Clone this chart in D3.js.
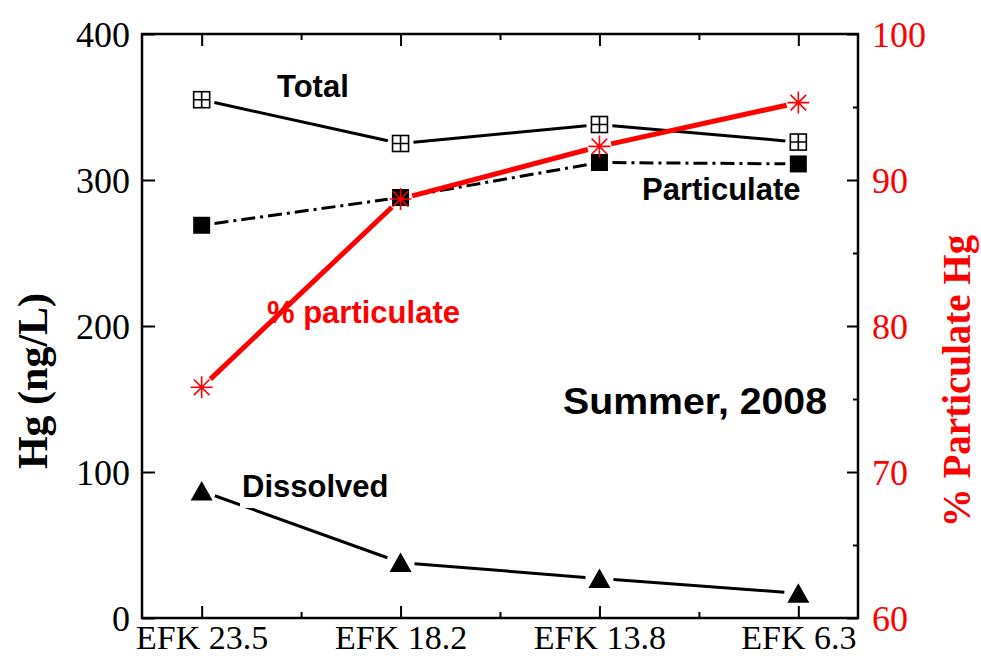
<!DOCTYPE html>
<html><head><meta charset="utf-8">
<script src="https://cdn.jsdelivr.net/npm/d3@7"></script>
<style>html,body{margin:0;padding:0;background:#fff;}</style>
</head><body>
<svg id="chart" width="981" height="659"></svg>
<script>
const categories = ["EFK 23.5", "EFK 18.2", "EFK 13.8", "EFK 6.3"];
const totalHg = [355, 325, 338, 326];
const particulateHg = [269, 288, 312, 311];
const dissolvedHg = [87, 38, 27, 17];
const pctParticulate = [75.8, 88.7, 92.3, 95.3];
const leftTicks = [0, 100, 200, 300, 400];
const rightTicks = [60, 70, 80, 90, 100];
const rightMinor = [65, 75, 85, 95];

const svg = d3.select("#chart");
const L = 142, R = 858, T = 34, B = 618;
const x = d3.scaleLinear().domain([-0.3, 3.3]).range([L, R]);
const yL = d3.scaleLinear().domain([0, 400]).range([B, T]);
const yR = d3.scaleLinear().domain([60, 100]).range([B, T]);
const serif = "'Liberation Serif','Times New Roman',serif";
const sans = "'Liberation Sans',Arial,Helvetica,sans-serif";
const RED = "#ff0000";

// axes (ticks inward)
const idx = categories.map((d, i) => i);
const gB = svg.append("g").attr("transform", `translate(0,${B})`)
  .call(d3.axisBottom(x).tickValues(idx).tickSize(-12).tickFormat(i => categories[i]));
const gBm = svg.append("g").attr("transform", `translate(0,${B})`)
  .call(d3.axisBottom(x).tickValues([0.5, 1.5, 2.5]).tickSize(-6).tickFormat(""));
const gT = svg.append("g").attr("transform", `translate(0,${T})`)
  .call(d3.axisTop(x).tickValues(idx).tickSize(-12).tickFormat(""));
const gTm = svg.append("g").attr("transform", `translate(0,${T})`)
  .call(d3.axisTop(x).tickValues([0.5, 1.5, 2.5]).tickSize(-6).tickFormat(""));
const gL = svg.append("g").attr("transform", `translate(${L},0)`)
  .call(d3.axisLeft(yL).tickValues(leftTicks).tickSize(-13).tickPadding(12).tickFormat(d3.format("d")));
const gR = svg.append("g").attr("transform", `translate(${R},0)`)
  .call(d3.axisRight(yR).tickValues(rightTicks).tickSize(-11).tickPadding(14).tickFormat(d3.format("d")));
const gRm = svg.append("g").attr("transform", `translate(${R},0)`)
  .call(d3.axisRight(yR).tickValues(rightMinor).tickSize(-5).tickFormat(""));
[gB, gBm, gT, gTm, gL, gR, gRm].forEach(g => {
  g.select(".domain").remove();
  g.selectAll("line").attr("stroke", "#000").attr("stroke-width", 2);
  g.selectAll("text").attr("font-family", serif).attr("font-size", 36).attr("fill", "#000");
});
gB.selectAll("text").attr("font-size", 34).attr("dy", null).attr("y", 31);
gR.selectAll("text").attr("fill", RED);
gL.selectAll("text").attr("dy", "0.35em");
gR.selectAll("text").attr("dy", "0.35em");

// frame
svg.append("rect").attr("x", L).attr("y", T).attr("width", R - L).attr("height", B - T)
  .attr("fill", "none").attr("stroke", "#000").attr("stroke-width", 2.5);

// helper: segments shortened near markers
function gapPath(pts, gap) {
  let d = "";
  for (let i = 0; i < pts.length - 1; i++) {
    const [x0, y0] = pts[i], [x1, y1] = pts[i + 1];
    const dx = x1 - x0, dy = y1 - y0, len = Math.hypot(dx, dy);
    const ux = dx / len, uy = dy / len;
    d += `M${x0 + ux * gap},${y0 + uy * gap}L${x1 - ux * gap},${y1 - uy * gap}`;
  }
  return d;
}
const ptsL = arr => arr.map((v, i) => [x(i), yL(v)]);
const ptsR = arr => arr.map((v, i) => [x(i), yR(v)]);

svg.append("path").attr("d", gapPath(ptsL(dissolvedHg), 14))
  .attr("fill", "none").attr("stroke", "#000").attr("stroke-width", 3);
// Dissolved label background (white box breaking the line)
svg.append("rect").attr("x", 240).attr("y", 468).attr("width", 155).attr("height", 40).attr("fill", "#fff");

svg.append("path").attr("d", gapPath(ptsL(totalHg), 13))
  .attr("fill", "none").attr("stroke", "#000").attr("stroke-width", 3);
svg.append("path").attr("d", gapPath(ptsL(particulateHg), 13))
  .attr("fill", "none").attr("stroke", "#000").attr("stroke-width", 3)
  .attr("stroke-dasharray", "14,5,3,5");

// markers: total (open square with cross)
const s = 16;
const tot = svg.append("g").selectAll("g").data(totalHg).join("g")
  .attr("transform", (d, i) => `translate(${x(i)},${yL(d)})`);
tot.append("rect").attr("x", -s / 2).attr("y", -s / 2).attr("width", s).attr("height", s)
  .attr("fill", "#fff").attr("stroke", "#000").attr("stroke-width", 1.6);
tot.append("path").attr("d", `M${-s / 2},0H${s / 2}M0,${-s / 2}V${s / 2}`)
  .attr("stroke", "#000").attr("stroke-width", 1.6);
// particulate filled squares
svg.append("g").selectAll("rect").data(particulateHg).join("rect")
  .attr("x", (d, i) => x(i) - 8.5).attr("y", d => yL(d) - 8.5)
  .attr("width", 17).attr("height", 17).attr("fill", "#000");
// dissolved triangles
svg.append("g").selectAll("path").data(dissolvedHg).join("path")
  .attr("transform", (d, i) => `translate(${x(i)},${yL(d)})`)
  .attr("d", "M0,-10L11,9.5L-11,9.5Z").attr("fill", "#000");

// red % line
svg.append("path").attr("d", gapPath(ptsR(pctParticulate), 12))
  .attr("fill", "none").attr("stroke", RED).attr("stroke-width", 5);
svg.append("g").selectAll("path").data(pctParticulate).join("path")
  .attr("transform", (d, i) => `translate(${x(i)},${yR(d)})`)
  .attr("d", () => {
    const r = 11, c = r * Math.SQRT1_2;
    return `M${-r},0H${r}M0,${-r}V${r}M${-c},${-c}L${c},${c}M${-c},${c}L${c},${-c}`;
  })
  .attr("stroke", RED).attr("stroke-width", 1.6).attr("fill", "none");

// labels
const lab = (t, xx, yy, size, fill) => svg.append("text").attr("x", xx).attr("y", yy)
  .attr("font-family", sans).attr("font-weight", "bold").attr("font-size", size)
  .attr("fill", fill || "#000").text(t);
lab("Total", 277, 97, 31);
lab("Particulate", 642, 200, 31);
lab("% particulate", 267, 323, 31, RED);
lab("Dissolved", 242, 497, 31);
lab("Summer, 2008", 563, 414, 37).attr("textLength", 264).attr("lengthAdjust", "spacingAndGlyphs");

// axis titles
svg.append("text").attr("transform", "translate(47,381) rotate(-90)")
  .attr("text-anchor", "middle").attr("font-family", serif).attr("font-weight", "bold")
  .attr("font-size", 42).attr("fill", "#000").text("Hg (ng/L)");
svg.append("text").attr("transform", "translate(970,381) rotate(-90)")
  .attr("text-anchor", "middle").attr("font-family", serif).attr("font-weight", "bold")
  .attr("font-size", 39).attr("fill", RED).text("% Particulate Hg");
</script>
</body></html>
